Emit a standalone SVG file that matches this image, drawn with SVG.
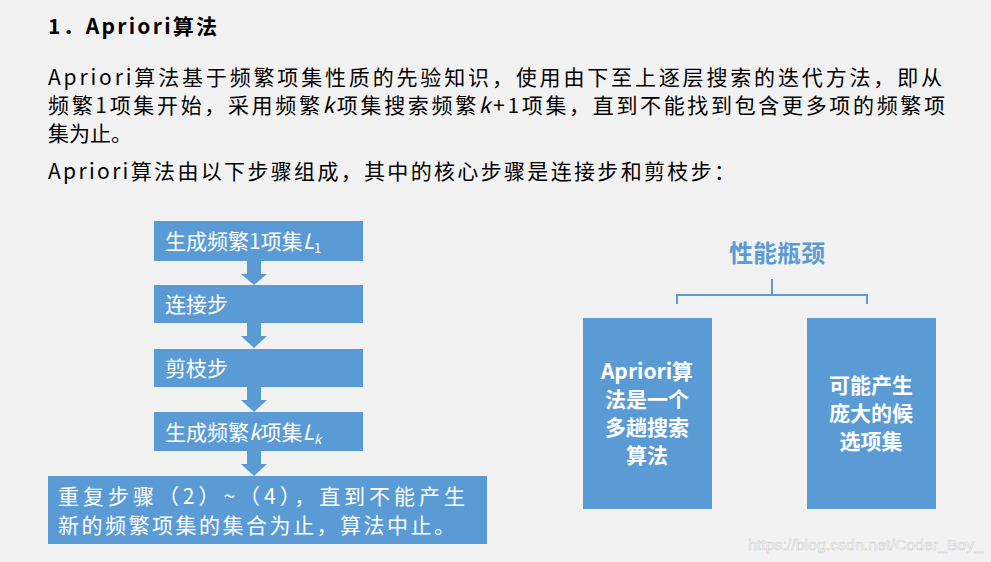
<svg xmlns="http://www.w3.org/2000/svg" width="991" height="562" viewBox="0 0 991 562">
<style>
text{font-family:"Noto Sans CJK SC","Liberation Sans",sans-serif}
.t{font-size:21px;fill:#000}
.b{fill:#5b9bd5}
.w{fill:#fff;font-size:21px}
.wb{fill:#fff;font-size:21px;font-weight:bold;text-anchor:middle}
</style>
<rect width="991" height="562" fill="#f2f2f2"/>
<text x="48" y="34" style="font-size:21px;font-weight:bold" textLength="169" lengthAdjust="spacing">1．Apriori算法</text>
<text class="t" x="48" y="85" textLength="894" lengthAdjust="spacing">Apriori算法基于频繁项集性质的先验知识，使用由下至上逐层搜索的迭代方法，即从</text>
<text class="t" x="48" y="113" textLength="897" lengthAdjust="spacing">频繁1项集开始，采用频繁<tspan font-style="italic">k</tspan>项集搜索频繁<tspan font-style="italic">k</tspan>+1项集，直到不能找到包含更多项的频繁项</text>
<text class="t" x="48" y="141">集为止。</text>
<text class="t" x="48" y="179" textLength="687" lengthAdjust="spacing">Apriori算法由以下步骤组成，其中的核心步骤是连接步和剪枝步：</text>
<g id="connectors" class="b">
<path d="M247 261h14v13h6l-13 11l-13-11h6z"/>
<path d="M247 323h14v13h6l-13 12l-13-12h6z"/>
<path d="M247 387h14v13h6l-13 12l-13-12h6z"/>
<path d="M247 451h14v13h6l-13 12l-13-12h6z"/>
<path d="M677 304v-9h190v9M772 295v-16" fill="none" stroke="#5b9bd5" stroke-width="2"/>
</g>
<g id="n1"><rect class="b" x="154" y="221" width="209" height="40"/><text class="w" x="165" y="249">生成频繁1项集<tspan font-style="italic">L</tspan><tspan font-size="13" dy="4">1</tspan></text></g>
<g id="n2"><rect class="b" x="154" y="285" width="209" height="38"/><text class="w" x="165" y="312">连接步</text></g>
<g id="n3"><rect class="b" x="154" y="349" width="209" height="38"/><text class="w" x="165" y="376">剪枝步</text></g>
<g id="n4"><rect class="b" x="154" y="412" width="209" height="39"/><text class="w" x="165" y="440">生成频繁<tspan font-style="italic">k</tspan>项集<tspan font-style="italic">L</tspan><tspan font-size="13" dy="4" font-style="italic">k</tspan></text></g>
<g id="n5"><rect class="b" x="48" y="476" width="439" height="68"/><text class="w" x="58" y="504" textLength="407" lengthAdjust="spacing">重复步骤（2）~（4），直到不能产生</text><text class="w" x="58" y="533" textLength="397" lengthAdjust="spacing">新的频繁项集的集合为止，算法中止。</text></g>
<g id="title"><text x="777" y="262" style="font-size:24px;font-weight:bold;fill:#5b9bd5;text-anchor:middle">性能瓶颈</text></g>
<g id="a"><rect class="b" x="583" y="318" width="129" height="191"/>
<text class="wb" x="647" y="379">Apriori算</text><text class="wb" x="647" y="407">法是一个</text><text class="wb" x="647" y="435">多趟搜索</text><text class="wb" x="647" y="463">算法</text></g>
<g id="bn"><rect class="b" x="807" y="318" width="129" height="191"/>
<text class="wb" x="871" y="393">可能产生</text><text class="wb" x="871" y="421">庞大的候</text><text class="wb" x="871" y="449">选项集</text></g>
<text x="748" y="550" textLength="235" lengthAdjust="spacingAndGlyphs" style="font-size:15px;font-family:'Liberation Sans',sans-serif;fill:#fff;stroke:#ccc;stroke-width:0.5">https://blog.csdn.net/Coder_Boy_</text>
</svg>
